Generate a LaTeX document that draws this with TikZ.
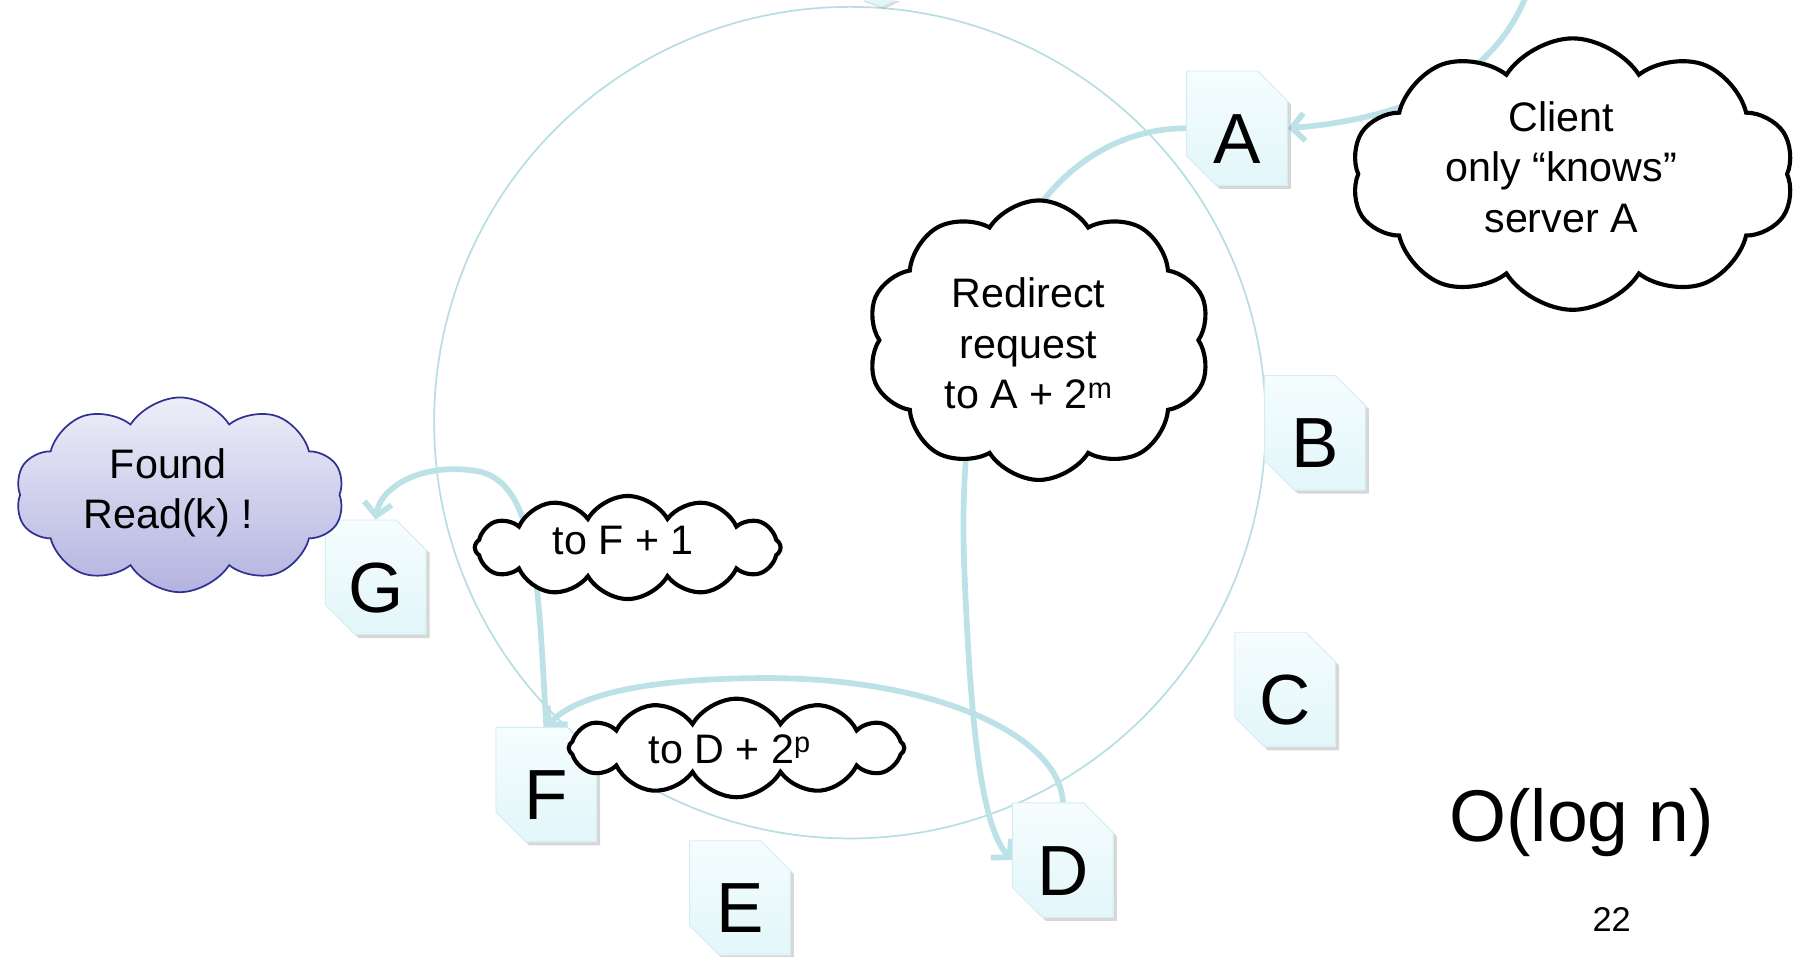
\documentclass[tikz,border=0pt]{standalone}
\usepackage{fontspec}
\setmainfont{Liberation Sans}
\usetikzlibrary{shapes.misc,shapes.symbols,shadows,arrows.meta}
\definecolor{ringc}{HTML}{B7DEE3}
\definecolor{linkc}{HTML}{BCE2E7}
\definecolor{boxtop}{HTML}{F6FDFE}
\definecolor{boxbot}{HTML}{E2F6F9}
\definecolor{boxedge}{HTML}{D3EEF2}
\definecolor{foundtop}{HTML}{EEEEF9}
\definecolor{foundbot}{HTML}{B3B3E0}
\definecolor{foundedge}{HTML}{2E3192}
\pgfdeclarelayer{bg}
\pgfsetlayers{bg,main}
\begin{document}
\begin{tikzpicture}[x=1pt,y=-1pt,
  srv/.style={chamfered rectangle, chamfered rectangle corners={north east,south west},
    chamfered rectangle sep=13pt, minimum width=88pt, minimum height=100pt, inner sep=0pt,
    draw=boxedge, line width=0.8pt, top color=boxtop, bottom color=boxbot,
    drop shadow={shadow xshift=3pt,shadow yshift=-3pt,opacity=0.35,fill=black!45},
    font=\fontsize{62}{62}\selectfont, text height=61pt, text depth=0pt},
  talk/.style={cloud, cloud puffs=10, cloud puff arc=115, cloud ignores aspect,
    draw=black, line width=3.6pt, fill=white, inner sep=0pt},
  txt/.style={align=center, inner sep=0pt, font=\fontsize{36}{44}\selectfont},
  link/.style={draw=linkc, line width=5pt},
  arr/.style={-{Straight Barb[length=11pt,width=24pt]}}
]
\useasboundingbox (0,0) rectangle (1568,835);

% ring
\begin{pgfonlayer}{bg}
\node[circle, draw=ringc, line width=1.5pt, minimum size=726pt, inner sep=0pt] (ring) at (742,369) {};
\end{pgfonlayer}

% partial node at the top edge
\fill[boxbot, drop shadow={shadow xshift=2pt,shadow yshift=-2pt,opacity=0.3,fill=black!45}] (751,-1) -- (770,6) -- (784,-1) -- cycle;

% servers
\node[srv] (A) at (1080,112) {A};
\node[srv] (B) at (1148,378) {B};
\node[srv] (C) at (1122,602) {C};
\node[srv] (D) at (928,751) {D};
\node[srv] (E) at (646,784) {E};
\node[srv] (F) at (477,685) {F};
\node[srv] (G) at (328,504) {G};

% clouds
\node[talk, minimum width=387pt, minimum height=237pt] (client) at (1373,152) {};
\node[txt] (clientt) at (1363,146) {Client\\only “knows”\\server A};
\node[talk, minimum width=300pt, minimum height=244pt] (redir) at (907,297) {};
\node[txt] (redirt) at (898,300) {Redirect\\request\\to A + 2\textsuperscript{m}};
\node[talk, draw=foundedge, line width=1.5pt, top color=foundtop, bottom color=foundbot,
      minimum width=287pt, minimum height=170pt] (found) at (157,432) {};
\node[txt] (foundt) at (147,430) {Found\\Read(k) !};
\node[talk, cloud puffs=12, cloud puff arc=120, minimum width=267pt, minimum height=90pt] (ff) at (548,478) {};
\node[txt] (fft) at (544,472) {to F + 1};
\node[talk, cloud puffs=12, cloud puff arc=120, minimum width=293pt, minimum height=86pt] (fd) at (643,653) {};
\node[txt] (fdt) at (637,654) {to D + 2\textsuperscript{p}};

% texts
\node[font=\fontsize{64}{64}\selectfont] (olog) at (1381,718) {O(log n)};
\node[font=\fontsize{30}{30}\selectfont] (pg) at (1407,803) {22};

% connectors
\coordinate (ctop) at (1332,-3);
\begin{pgfonlayer}{bg}
\draw[link, arr] (ctop) .. controls (1305,65) and (1235,103) .. (A.east);
\draw[link, arr] (A.west) .. controls (965,112) and (905,160) .. (878,235)
   .. controls (848,320) and (838,400) .. (842,500)
   .. controls (847,620) and (855,720) .. (D.west);
\draw[link, arr] (D.north) .. controls (925,640) and (810,590) .. (660,592)
   .. controls (570,593) and (505,605) .. (F.north);
\draw[link, arr] (F.north) .. controls (470,520) and (470,425) .. (420,412)
   .. controls (370,402) and (332,425) .. (G.north);
\end{pgfonlayer}
\end{tikzpicture}
\end{document}
